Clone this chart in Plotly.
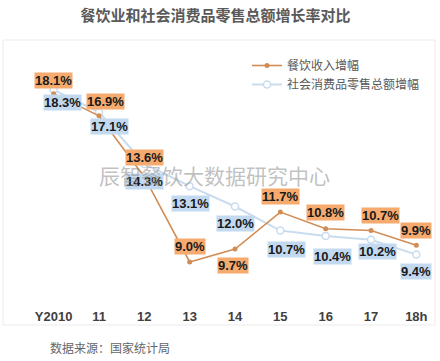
import plotly.graph_objects as go

categories = ["Y2010", "11", "12", "13", "14", "15", "16", "17", "18h"]
catering = [18.1, 16.9, 13.6, 9.0, 9.7, 11.7, 10.8, 10.7, 9.9]
retail = [18.3, 17.1, 14.3, 13.1, 12.0, 10.7, 10.4, 10.2, 9.4]

# label offsets in pixels (xshift, yshift)
cat_off = [(0, 13), (6, 14), (0, 19), (0, 16), (-2, -16), (0, 16), (0, 16), (9, 15), (0, 15)]
ret_off = [(9, -13), (10, -14), (0, -18), (1, -17), (0, -17), (6, -19), (7, -20), (6, -12), (0, -17)]

xs = list(range(len(categories)))

fig = go.Figure()
fig.add_trace(go.Scatter(
    x=xs, y=retail, mode="lines+markers", name="社会消费品零售总额增幅",
    line=dict(color="#C9DCEF", width=2),
    marker=dict(symbol="circle", size=7, color="white", line=dict(color="#C9DCEF", width=1.5)),
))
fig.add_trace(go.Scatter(
    x=xs, y=catering, mode="lines+markers", name="餐饮收入增幅",
    line=dict(color="#D18D55", width=1.6),
    marker=dict(symbol="circle", size=5, color="#D18D55"),
))

W, H = 440, 361
L, R, T, B = 31, 1, 60, 61
pw, ph = W - L - R, H - T - B

def px_to_paper(px, py):
    return (px - L) / pw, (H - B - py) / ph

lab_font = dict(family="Liberation Sans, Arial, sans-serif", size=13, color="#1a1a1a", weight="bold")
annotations = []
for i, v in enumerate(retail):
    annotations.append(dict(x=xs[i], y=v, xref="x", yref="y", text=f"{v:.1f}%", showarrow=False,
                            xshift=ret_off[i][0], yshift=ret_off[i][1], bgcolor="#C2D9F0",
                            borderpad=0, font=lab_font))
for i, v in enumerate(catering):
    annotations.append(dict(x=xs[i], y=v, xref="x", yref="y", text=f"{v:.1f}%", showarrow=False,
                            xshift=cat_off[i][0], yshift=cat_off[i][1], bgcolor="#F6AA6E",
                            borderpad=0, font=lab_font))

wx, wy = px_to_paper(214, 175)
annotations.append(dict(x=wx, y=wy, xref="paper", yref="paper", text="辰智餐饮大数据研究中心",
                        xanchor="center", yanchor="middle", showarrow=False,
                        font=dict(family="Noto Sans CJK SC", size=21, color="rgba(140,140,140,0.55)")))

sx, sy = px_to_paper(48, 347)
annotations.append(dict(x=sx, y=sy, xref="paper", yref="paper", xanchor="left", yanchor="middle",
                        text="数据来源：国家统计局", showarrow=False,
                        font=dict(family="Noto Sans CJK SC", size=12, color="#666666")))

x0, y0 = px_to_paper(3, 40)
x1, y1 = px_to_paper(435, 325)

fig.update_layout(
    width=W, height=H,
    margin=dict(l=L, r=R, t=T, b=B),
    paper_bgcolor="white", plot_bgcolor="white",
    title=dict(text="<b>餐饮业和社会消费品零售总额增长率对比</b>", x=215.5 / W, xanchor="center",
               y=1 - 16 / H, yanchor="middle",
               font=dict(family="Noto Sans CJK SC", size=15, color="#595959")),
    xaxis=dict(range=[-0.5, 8.5], tickmode="array", tickvals=xs, ticktext=categories,
               showgrid=False, zeroline=False, showline=False, ticks="outside", ticklen=4,
               tickcolor="rgba(0,0,0,0)",
               tickfont=dict(family="Liberation Sans, Arial, sans-serif", size=13, color="#404040", weight="bold")),
    yaxis=dict(range=[9 - 38 / 18.5, 9 + 202 / 18.5], showgrid=False, zeroline=False,
               showticklabels=False, showline=False),
    legend=dict(x=px_to_paper(247, 0)[0], y=px_to_paper(0, 51)[1], xanchor="left", yanchor="top",
                traceorder="reversed", bgcolor="rgba(0,0,0,0)",
                font=dict(family="Noto Sans CJK SC", size=12, color="#595959"),
                itemwidth=30, tracegroupgap=0),
    shapes=[dict(type="rect", xref="paper", yref="paper", x0=x0, y0=y1, x1=x1, y1=y0,
                 line=dict(color="#EBEBEB", width=1), layer="below")],
    annotations=annotations,
    showlegend=True,
)

fig.write_html("out.html", config={"displayModeBar": False},
               post_script="document.body.style.margin='0px';")
